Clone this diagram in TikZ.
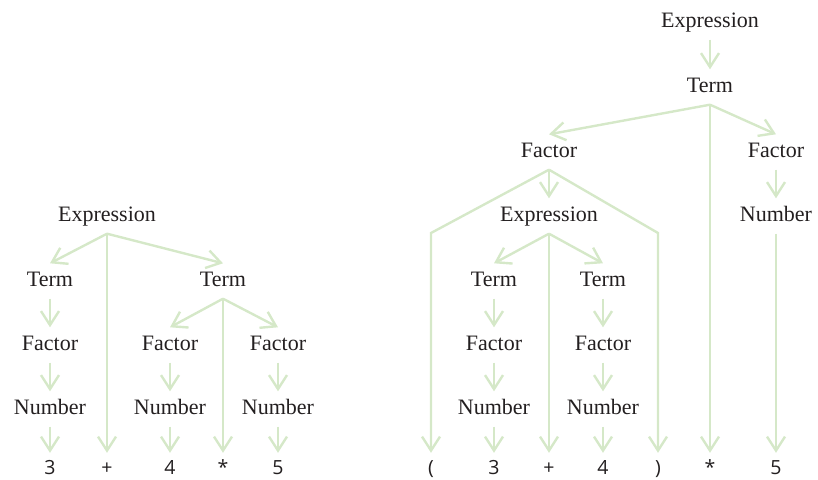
\documentclass[tikz,border=0pt]{standalone}
\usepackage{fontspec}
\setmainfont{Liberation Serif}
\newfontfamily\tokfont{Open Sans}
\usetikzlibrary{arrows.meta}
\definecolor{arrowgreen}{RGB}{213,232,200}
\definecolor{textdark}{RGB}{35,31,32}
\begin{document}
\begin{tikzpicture}[x=1pt,y=-1pt,
  lbl/.style={font=\fontsize{22}{26}\selectfont, text=textdark, minimum height=35pt, inner sep=0pt, text height=14pt, text depth=4pt},
  tok/.style={font=\tokfont\fontsize{19.5}{22}\selectfont, text=textdark, inner sep=0pt, text height=14pt, text depth=0pt},
  conn/.style={draw=arrowgreen, line width=2.4pt, line join=miter, -{Straight Barb[length=14pt,width=18pt]}},
  tk/.style={yshift=7pt}]
\useasboundingbox (0,0) rectangle (818,479);
% ---------------- left tree ----------------
\node[lbl] (lE)  at (107,216) {Expression};
\node[lbl] (lT1) at (50,281)  {Term};
\node[lbl] (lT2) at (223,281) {Term};
\node[lbl] (lF1) at (50,345)  {Factor};
\node[lbl] (lF2) at (170,345) {Factor};
\node[lbl] (lF3) at (278,345) {Factor};
\node[lbl] (lN1) at (50,409)  {Number};
\node[lbl] (lN2) at (170,409) {Number};
\node[lbl] (lN3) at (278,409) {Number};
\node[tok] (l3)    at (50,467)  {3};
\node[tok] (lplus) at (107,467) {+};
\node[tok] (l4)    at (170,467) {4};
\node[tok] (lstar) at (223,467) {*};
\node[tok] (l5)    at (278,467) {5};
\draw[conn] (lE.south) -- (lT1.north);
\draw[conn] (lE.south) -- ([tk]lplus.north);
\draw[conn] (lE.south) -- (lT2.north);
\draw[conn] (lT1.south) -- (lF1.north);
\draw[conn] (lF1.south) -- (lN1.north);
\draw[conn] (lN1.south) -- ([tk]l3.north);
\draw[conn] (lT2.south) -- (lF2.north);
\draw[conn] (lT2.south) -- ([tk]lstar.north);
\draw[conn] (lT2.south) -- (lF3.north);
\draw[conn] (lF2.south) -- (lN2.north);
\draw[conn] (lN2.south) -- ([tk]l4.north);
\draw[conn] (lF3.south) -- (lN3.north);
\draw[conn] (lN3.south) -- ([tk]l5.north);
% ---------------- right tree ----------------
\node[lbl] (rE)  at (710,22)  {Expression};
\node[lbl] (rT)  at (710,87)  {Term};
\node[lbl] (rF1) at (549,152) {Factor};
\node[lbl] (rF2) at (776,152) {Factor};
\node[lbl] (rN0) at (776,216) {Number};
\node[lbl] (rE2) at (549,216) {Expression};
\node[lbl] (rT1) at (494,281) {Term};
\node[lbl] (rT2) at (603,281) {Term};
\node[lbl] (rF3) at (494,345) {Factor};
\node[lbl] (rF4) at (603,345) {Factor};
\node[lbl] (rN1) at (494,409) {Number};
\node[lbl] (rN2) at (603,409) {Number};
\node[tok] (rlp)   at (431,467) {(};
\node[tok] (r3)    at (494,467) {3};
\node[tok] (rplus) at (549,467) {+};
\node[tok] (r4)    at (603,467) {4};
\node[tok] (rrp)   at (658,467) {)};
\node[tok] (rstar) at (710,467) {*};
\node[tok] (r5)    at (776,467) {5};
\coordinate (bendL) at (431,233);
\coordinate (bendR) at (658,233);
\draw[conn] (rE.south) -- (rT.north);
\draw[conn] (rT.south) -- (rF1.north);
\draw[conn] (rT.south) -- ([tk]rstar.north);
\draw[conn] (rT.south) -- (rF2.north);
\draw[conn] (rF2.south) -- (rN0.north);
\draw[conn] (rN0.south) -- ([tk]r5.north);
\draw[conn] (rF1.south) -- (bendL) -- ([tk]rlp.north);
\draw[conn] (rF1.south) -- (rE2.north);
\draw[conn] (rF1.south) -- (bendR) -- ([tk]rrp.north);
\draw[conn] (rE2.south) -- (rT1.north);
\draw[conn] (rE2.south) -- ([tk]rplus.north);
\draw[conn] (rE2.south) -- (rT2.north);
\draw[conn] (rT1.south) -- (rF3.north);
\draw[conn] (rF3.south) -- (rN1.north);
\draw[conn] (rN1.south) -- ([tk]r3.north);
\draw[conn] (rT2.south) -- (rF4.north);
\draw[conn] (rF4.south) -- (rN2.north);
\draw[conn] (rN2.south) -- ([tk]r4.north);
\end{tikzpicture}
\end{document}
